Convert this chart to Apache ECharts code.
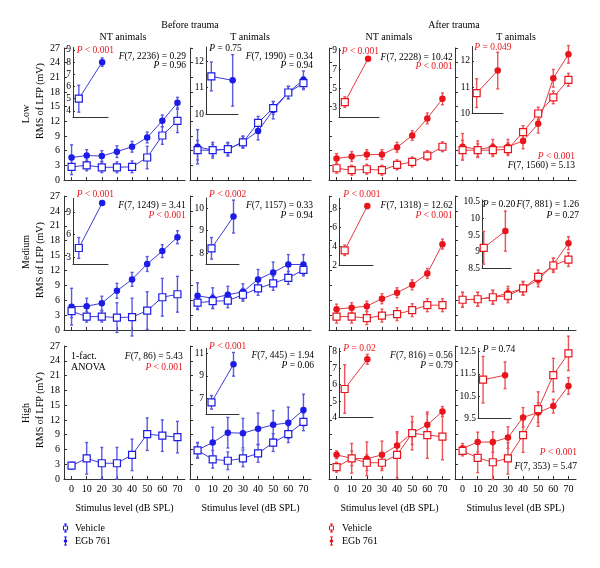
<!DOCTYPE html>
<html><head><meta charset="utf-8">
<script src="https://cdn.jsdelivr.net/npm/echarts@6/dist/echarts.min.js"></script>
<style>html,body{margin:0;padding:0;background:#fff}#c{width:600px;height:568px}</style>
</head><body><div id="c"></div>
<script>
// ---------------- DATA ----------------
const stimulus = [0, 10, 20, 30, 40, 50, 60, 70];
const xTicks = [0, 10, 20, 30, 40, 50, 60, 70];
const yTicks = [0, 3, 6, 9, 12, 15, 18, 21, 24, 27];

// Before trauma, NT animals, Low
const bLowNT_veh = [2.7, 3.0, 2.6, 2.6, 2.7, 4.6, 9.1, 12.1];
const bLowNT_vehErr = [1.6, 1.1, 1.1, 1.1, 1.2, 2.3, 1.8, 2.4];
const bLowNT_egb = [4.6, 5.0, 4.9, 5.8, 6.8, 8.7, 12.1, 15.8];
const bLowNT_egbErr = [2.6, 1.2, 1.1, 1.2, 1.1, 1.1, 1.2, 1.1];
// Before trauma, T animals, Low
const bLowT_veh = [6.1, 6.1, 6.3, 7.7, 11.7, 14.7, 17.9, 19.8];
const bLowT_vehErr = [2.0, 1.2, 1.2, 1.2, 1.3, 1.3, 1.3, 1.3];
const bLowT_egb = [6.8, 6.1, 6.3, 7.8, 10.0, 14.3, 17.9, 20.5];
const bLowT_egbErr = [3.5, 1.6, 1.4, 1.2, 1.8, 1.8, 1.2, 1.8];
// After trauma, NT animals, Low
const aLowNT_veh = [2.4, 2.0, 2.2, 2.0, 3.1, 3.7, 5.0, 6.8];
const aLowNT_vehErr = [1.0, 1.0, 1.0, 1.0, 1.0, 1.0, 1.0, 1.0];
const aLowNT_egb = [4.4, 4.8, 5.2, 5.2, 6.7, 9.1, 12.6, 16.6];
const aLowNT_egbErr = [1.0, 1.0, 1.0, 1.0, 1.0, 1.0, 1.1, 1.2];
// After trauma, T animals, Low
const aLowT_veh = [6.1, 6.1, 6.1, 6.3, 9.8, 13.6, 16.9, 20.5];
const aLowT_vehErr = [2.0, 1.3, 1.3, 1.3, 1.3, 1.3, 1.3, 1.3];
const aLowT_egb = [6.8, 6.3, 6.7, 6.8, 8.0, 11.5, 20.8, 25.7];
const aLowT_egbErr = [2.7, 1.7, 1.6, 1.5, 1.6, 1.9, 1.8, 1.8];

// Before trauma, NT animals, Medium
const bMedNT_veh = [3.8, 2.7, 2.7, 2.5, 2.6, 3.9, 6.6, 7.2];
const bMedNT_vehErr = [1.3, 1.1, 1.1, 3.0, 3.8, 3.8, 3.8, 3.6];
const bMedNT_egb = [4.7, 4.8, 5.4, 7.9, 10.2, 13.3, 15.9, 18.7];
const bMedNT_egbErr = [3.7, 1.6, 1.4, 1.5, 1.4, 1.5, 1.3, 1.3];
// Before trauma, T animals, Medium
const bMedT_veh = [5.5, 5.8, 5.9, 7.1, 8.4, 9.4, 10.5, 12.1];
const bMedT_vehErr = [1.4, 1.4, 1.4, 1.3, 1.4, 1.4, 1.3, 1.2];
const bMedT_egb = [6.9, 6.4, 7.1, 7.7, 10.2, 11.6, 13.2, 13.2];
const bMedT_egbErr = [2.6, 2.1, 1.7, 1.6, 2.0, 2.1, 2.0, 2.0];
// After trauma, NT animals, Medium
const aMedNT_veh = [2.7, 2.7, 2.4, 2.9, 3.2, 4.0, 5.0, 5.0];
const aMedNT_vehErr = [1.3, 1.3, 1.3, 1.3, 1.3, 1.3, 1.3, 1.3];
const aMedNT_egb = [4.2, 4.5, 4.8, 6.3, 7.5, 9.1, 11.4, 17.3];
const aMedNT_egbErr = [1.0, 1.0, 1.0, 1.0, 1.0, 1.0, 1.0, 1.0];
// After trauma, T animals, Medium
const aMedT_veh = [6.1, 6.2, 6.6, 6.9, 8.4, 10.7, 13.0, 14.2];
const aMedT_vehErr = [1.5, 1.4, 1.4, 1.4, 1.4, 1.4, 1.4, 1.4];
const aMedT_egb = [6.1, 6.2, 6.6, 7.4, 8.4, 10.1, 13.2, 17.5];
const aMedT_egbErr = [1.5, 1.4, 1.4, 1.4, 1.3, 1.4, 1.3, 1.3];

// Before trauma, NT animals, High (vehicle only)
const bHighNT_veh = [2.7, 4.2, 3.2, 3.2, 4.9, 9.1, 8.8, 8.5];
const bHighNT_vehErr = [0.7, 3.2, 3.2, 3.2, 3.2, 3.3, 3.2, 3.2];
// Before trauma, T animals, High
const bHighT_veh = [5.8, 4.0, 3.7, 4.2, 5.2, 7.4, 9.1, 11.6];
const bHighT_vehErr = [1.6, 1.8, 1.8, 1.7, 1.8, 1.8, 1.7, 1.8];
const bHighT_egb = [5.9, 7.4, 9.4, 9.3, 10.2, 11.0, 11.4, 14.0];
const bHighT_egbErr = [1.5, 3.1, 3.1, 3.0, 3.2, 2.9, 3.2, 3.2];
// After trauma, NT animals, High
const aHighNT_veh = [2.4, 4.2, 3.3, 3.3, 4.9, 9.3, 8.9, 8.6];
const aHighNT_vehErr = [1.0, 3.0, 1.6, 1.6, 4.7, 3.4, 4.7, 4.7];
const aHighNT_egb = [4.9, 4.2, 4.1, 4.9, 6.8, 9.3, 11.0, 13.7];
const aHighNT_egbErr = [0.8, 1.5, 3.4, 2.8, 2.5, 2.3, 2.2, 1.0];
// After trauma, T animals, High
const aHighT_veh = [5.7, 4.3, 3.4, 4.2, 8.9, 14.2, 21.1, 25.5];
const aHighT_vehErr = [1.0, 3.0, 3.5, 3.2, 3.5, 3.5, 3.4, 3.5];
const aHighT_egb = [6.2, 7.5, 7.5, 8.4, 12.5, 13.5, 14.8, 18.9];
const aHighT_egbErr = [1.0, 2.0, 2.1, 2.2, 2.0, 2.0, 1.4, 1.7];

// Inset means (vehicle vs EGb), panel order: row by row, columns bNT, bT, aNT, aT
const insetVeh    = [5.0, 11.43, 3.6, 10.77,  4.22, 8.22, 3.55, 9.12,  null, 6.64, 5.74, 11.24];
const insetVehErr = [1.1, 0.55, 0.55, 0.55,   1.4, 0.48, 0.55, 0.49,   null, 0.6, 1.47, 1.05];
const insetEgb    = [8.0, 11.28, 8.13, 11.63, 10.26, 9.63, 8.2, 9.62,  null, 10.02, 7.54, 11.44];
const insetEgbErr = [0.35, 0.98, 0.2, 0.7,    0.3, 0.73, 0.25, 0.6,    null, 1.05, 0.3, 0.6];
const insetTicks = [[4,5,6,7,8,9],[10,11,12],[3,5,7,9],[10,11,12],
                    [3,6,9],[8,9,10],[2,4,6,8],[8.5,9,9.5,10,10.5],
                    null,[7,9,11],[4,5,6,7,8],[9.5,10.5,11.5,12.5]];
const insetP = ['P < 0.001','P = 0.75','P < 0.001','P = 0.049',
                'P < 0.001','P < 0.002','P < 0.001','P = 0.20',
                null,'P < 0.001','P = 0.02','P = 0.74'];
const insetSig = [true,false,true,true, true,true,true,false, null,true,true,false];
const anovaF = ['F(7, 2236) = 0.29','F(7, 1990) = 0.34','F(7, 2228) = 10.42','F(7, 1560) = 5.13',
                'F(7, 1249) = 3.41','F(7, 1157) = 0.33','F(7, 1318) = 12.62','F(7, 881) = 1.26',
                'F(7, 86) = 5.43','F(7, 445) = 1.94','F(7, 816) = 0.56','F(7, 353) = 5.47'];
const anovaP = ['P = 0.96','P = 0.94','P < 0.001','P < 0.001',
                'P < 0.001','P = 0.94','P < 0.001','P = 0.27',
                'P < 0.001','P = 0.06','P = 0.79','P < 0.001'];
const anovaSig = [false,false,true,true, true,false,true,false, true,false,false,true];
const rowNames = ['Low', 'Medium', 'High'];
const yTitle = 'RMS of LFP (mV)';
const xTitle = 'Stimulus level (dB SPL)';
const groupTitles = ['Before trauma', 'After trauma'];
const colTitles = ['NT animals', 'T animals', 'NT animals', 'T animals'];
const legendNames = ['Vehicle', 'EGb 761'];

const panelData = [
  [bLowNT_veh, bLowNT_vehErr, bLowNT_egb, bLowNT_egbErr],
  [bLowT_veh, bLowT_vehErr, bLowT_egb, bLowT_egbErr],
  [aLowNT_veh, aLowNT_vehErr, aLowNT_egb, aLowNT_egbErr],
  [aLowT_veh, aLowT_vehErr, aLowT_egb, aLowT_egbErr],
  [bMedNT_veh, bMedNT_vehErr, bMedNT_egb, bMedNT_egbErr],
  [bMedT_veh, bMedT_vehErr, bMedT_egb, bMedT_egbErr],
  [aMedNT_veh, aMedNT_vehErr, aMedNT_egb, aMedNT_egbErr],
  [aMedT_veh, aMedT_vehErr, aMedT_egb, aMedT_egbErr],
  [bHighNT_veh, bHighNT_vehErr, null, null],
  [bHighT_veh, bHighT_vehErr, bHighT_egb, bHighT_egbErr],
  [aHighNT_veh, aHighNT_vehErr, aHighNT_egb, aHighNT_egbErr],
  [aHighT_veh, aHighT_vehErr, aHighT_egb, aHighT_egbErr]
];

// ---------------- LAYOUT / STYLE ----------------
const FONT = 'Liberation Serif';
const FS = 9.5;
const BLUE = '#1c1ce6', BLUE_L = '#3c3cd8', BLUE_E = '#5a5ae0';
const RED = '#e8151c', RED_L = '#e63a3f', RED_E = '#ec5257';
const AX = '#333';
const colLeft = [64, 190, 329, 455], colW = 121;
const rowTop = [48, 196, 346], rowH = [132, 134, 133];
// inset: left, top, width, height, ymin, ymax, xmin, xmax
const insetBox = [
  [73, 47.5, 35, 69.5, 3.5, 9.2, -0.25, 1.25],
  [206, 47, 32, 67, 10, 12.55, -0.25, 1.25],
  [339, 48.4, 40, 69.1, 2, 9.2, -0.25, 1.47],
  [472, 46.5, 31, 66.8, 10, 12.55, -0.22, 1.25],
  [73, 198.3, 35, 66.2, 2, 10.9, -0.25, 1.25],
  [206, 198.1, 33, 66.4, 7.5, 10.45, -0.25, 1.25],
  [339, 198.5, 34, 66.5, 2, 9, -0.25, 1.25],
  [482, 200, 29, 68.5, 8.5, 10.55, -0.08, 1.26],
  null,
  [206, 348.2, 33, 65.8, 5.6, 11.45, -0.25, 1.25],
  [339, 348.4, 34, 69.3, 4, 8.2, -0.25, 1.25],
  [478, 348.4, 33, 69.9, 9.5, 12.65, -0.23, 1.27]
];
const insetPPos = [[76.7,50.7],[209.3,48.3],[341.7,51],[474.3,47.7],
                   [76.7,194],[209,194],[343.3,194],[482.7,204],
                   null,[209,346.7],[343.3,348.3],[482.7,349.3]];
// anova text: [xRight, yF, yP]
const anovaPos = [[186,56.7,65.7],[313,56.7,65.7],[452.7,57,66],[575,165.7,156.7],
                  [185.7,205,215],[313,205,215],[452.7,205,215],[579,204,215],
                  [182.7,356,367],[314,355.7,365.7],[452.7,355,365],[577,466.7,452.7]];

function rich(s, color) {
  const m = s.match(/^([FP])(.*)$/);
  const base = {fontFamily: FONT, fontSize: FS, fill: color};
  return {
    text: m ? '{i|' + m[1] + '}{n|' + m[2] + '}' : '{n|' + s + '}',
    rich: {i: Object.assign({fontStyle: 'italic'}, base), n: Object.assign({}, base)}
  };
}
function textEl(x, y, s, color, align, vAlign) {
  const r = rich(s, color);
  return {type: 'text', x: x, y: y, silent: true, z: 100,
    style: {text: r.text, rich: r.rich, fontFamily: FONT, fontSize: FS, fill: color,
            align: align || 'left', verticalAlign: vAlign || 'middle'}};
}
function plainText(x, y, s, opts) {
  return Object.assign({type: 'text', x: x, y: y, silent: true, z: 100,
    style: Object.assign({text: s, fontFamily: FONT, fontSize: FS + 0.5, fill: '#000', align: 'center', verticalAlign: 'middle'}, opts && opts.style)},
    opts && opts.el);
}

const grids = [], xAxes = [], yAxes = [], series = [], graphics = [];

function errSeries(ai, data, color, z) {
  return {type: 'custom', xAxisIndex: ai, yAxisIndex: ai, data: data, z: z, silent: true, clip: false,
    animation: false, encode: {x: 0, y: 1},
    renderItem: function (params, api) {
      const x = api.value(0), y = api.value(1), e = api.value(2);
      const t = api.coord([x, y + e]), b = api.coord([x, y - e]);
      const st = {stroke: color, lineWidth: 1.4};
      const c = 1.5;
      return {type: 'group', children: [
        {type: 'line', shape: {x1: t[0], y1: t[1], x2: b[0], y2: b[1]}, style: st},
        {type: 'line', shape: {x1: t[0] - c, y1: t[1], x2: t[0] + c, y2: t[1]}, style: st},
        {type: 'line', shape: {x1: b[0] - c, y1: b[1], x2: b[0] + c, y2: b[1]}, style: st}
      ]};
    }};
}
function addPair(ai, xs, veh, vehErr, egb, egbErr, red) {
  const col = red ? RED : BLUE, lc = red ? RED_L : BLUE_L, ec = red ? RED_E : BLUE_E;
  if (egb) {
    series.push(errSeries(ai, xs.map((x, i) => [x, egb[i], egbErr[i]]), ec, 2));
    series.push({type: 'line', xAxisIndex: ai, yAxisIndex: ai, data: xs.map((x, i) => [x, egb[i]]),
      symbol: 'circle', symbolSize: 6.5, showSymbol: true, z: 3, animation: false, clip: false, silent: true,
      lineStyle: {color: lc, width: 1}, itemStyle: {color: col}});
  }
  series.push(errSeries(ai, xs.map((x, i) => [x, veh[i], vehErr[i]]), ec, 2));
  series.push({type: 'line', xAxisIndex: ai, yAxisIndex: ai, data: xs.map((x, i) => [x, veh[i]]),
    symbol: 'rect', symbolSize: 7, showSymbol: true, z: 4, animation: false, clip: false, silent: true,
    lineStyle: {color: lc, width: 1}, itemStyle: {color: '#fff', borderColor: col, borderWidth: 1.2}});
}
function addInset(ai, p, red) {
  const col = red ? RED : BLUE, lc = red ? RED_L : BLUE_L, ec = red ? RED_E : BLUE_E;
  series.push(errSeries(ai, [[0, insetVeh[p], insetVehErr[p]], [1, insetEgb[p], insetEgbErr[p]]], ec, 2));
  series.push({type: 'line', xAxisIndex: ai, yAxisIndex: ai, z: 3, animation: false, clip: false, silent: true,
    showSymbol: true, lineStyle: {color: lc, width: 1},
    data: [
      {value: [0, insetVeh[p]], symbol: 'rect', symbolSize: 7, itemStyle: {color: '#fff', borderColor: col, borderWidth: 1.2}},
      {value: [1, insetEgb[p]], symbol: 'circle', symbolSize: 6.5, itemStyle: {color: col}}
    ]});
}

let ai = 0;
for (let p = 0; p < 12; p++) {
  const r = Math.floor(p / 4), c = p % 4, red = c >= 2;
  grids.push({left: colLeft[c], top: rowTop[r], width: colW, height: rowH[r], containLabel: false});
  xAxes.push({type: 'value', gridIndex: ai, min: -5, max: 75,
    axisLine: {show: true, onZero: false, lineStyle: {color: AX, width: 1}},
    axisTick: {show: true, inside: true, length: 3, customValues: xTicks, lineStyle: {color: AX}},
    axisLabel: {show: r === 2, customValues: xTicks, fontFamily: FONT, fontSize: FS + 0.5, color: '#000', margin: 5},
    splitLine: {show: false},
    name: r === 2 ? xTitle : '', nameLocation: 'middle', nameGap: 24,
    nameTextStyle: {fontFamily: FONT, fontSize: FS + 0.5, color: '#000'}});
  yAxes.push({type: 'value', gridIndex: ai, min: 0, max: 27,
    axisLine: {show: true, onZero: false, lineStyle: {color: AX, width: 1}},
    axisTick: {show: true, inside: true, length: 3, customValues: yTicks, lineStyle: {color: AX}},
    axisLabel: {show: c === 0, customValues: yTicks, fontFamily: FONT, fontSize: FS + 0.5, color: '#000', margin: 4},
    splitLine: {show: false}});
  const d = panelData[p];
  addPair(ai, stimulus, d[0], d[1], d[2], d[3], red);
  ai++;
  // inset
  const b = insetBox[p];
  if (b) {
    grids.push({left: b[0], top: b[1], width: b[2], height: b[3]});
    xAxes.push({type: 'value', gridIndex: ai, min: b[6], max: b[7],
      axisLine: {show: true, onZero: false, lineStyle: {color: AX, width: 1}},
      axisTick: {show: false}, axisLabel: {show: false}, splitLine: {show: false}});
    yAxes.push({type: 'value', gridIndex: ai, min: b[4], max: b[5],
      axisLine: {show: true, onZero: false, lineStyle: {color: AX, width: 1}},
      axisTick: {show: true, inside: true, length: 2, customValues: insetTicks[p], lineStyle: {color: AX}},
      axisLabel: {show: true, customValues: insetTicks[p], fontFamily: FONT, fontSize: FS, color: '#000', margin: 2},
      splitLine: {show: false}});
    addInset(ai, p, red);
    ai++;
    const pp = insetPPos[p];
    graphics.push(textEl(pp[0], pp[1], insetP[p], insetSig[p] ? RED : '#000', 'left'));
  }
  const ap = anovaPos[p];
  graphics.push(textEl(ap[0], ap[1], anovaF[p], '#000', 'right'));
  graphics.push(textEl(ap[0], ap[2], anovaP[p], anovaSig[p] ? RED : '#000', 'right'));
}

// titles
graphics.push(plainText(190, 25, groupTitles[0]));
graphics.push(plainText(454, 25, groupTitles[1]));
const colCenters = [123, 250, 389, 516];
colCenters.forEach((x, i) => graphics.push(plainText(x, 37, colTitles[i])));
// row labels
const rowLabelY = [114, 252, 413], rmsY = [101, 260, 410];
for (let r = 0; r < 3; r++) {
  graphics.push(plainText(26, rowLabelY[r], rowNames[r], {el: {rotation: Math.PI / 2}}));
  graphics.push(plainText(40, rmsY[r], yTitle, {el: {rotation: Math.PI / 2}}));
}
// 1-fact. ANOVA
graphics.push(plainText(71, 356, '1-fact.', {style: {align: 'left'}}));
graphics.push(plainText(71, 367, 'ANOVA', {style: {align: 'left'}}));

// legends
function legendIcon(x, y, color, filled) {
  const st = {stroke: color, lineWidth: 1};
  const els = [
    {type: 'line', shape: {x1: x, y1: y - 4, x2: x, y2: y + 4}, style: st},
    {type: 'line', shape: {x1: x - 1.5, y1: y - 4, x2: x + 1.5, y2: y - 4}, style: st},
    {type: 'line', shape: {x1: x - 1.5, y1: y + 4, x2: x + 1.5, y2: y + 4}, style: st}
  ];
  if (filled) els.push({type: 'circle', shape: {cx: x, cy: y, r: 1.8}, style: {fill: color}});
  else els.push({type: 'rect', shape: {x: x - 2, y: y - 2, width: 4, height: 4}, style: {fill: '#fff', stroke: color, lineWidth: 1}});
  return {type: 'group', silent: true, children: els};
}
[[65.5, 75, BLUE], [331.5, 342, RED]].forEach(function (L) {
  graphics.push(legendIcon(L[0], 528, L[2], false));
  graphics.push(legendIcon(L[0], 541, L[2], true));
  graphics.push(plainText(L[1], 528, legendNames[0], {style: {align: 'left'}}));
  graphics.push(plainText(L[1], 541, legendNames[1], {style: {align: 'left'}}));
});

const chart = echarts.init(document.getElementById('c'), null, {renderer: 'canvas'});
chart.setOption({
  animation: false,
  backgroundColor: '#fff',
  grid: grids, xAxis: xAxes, yAxis: yAxes, series: series,
  graphic: {elements: graphics}
});
</script></body></html>
